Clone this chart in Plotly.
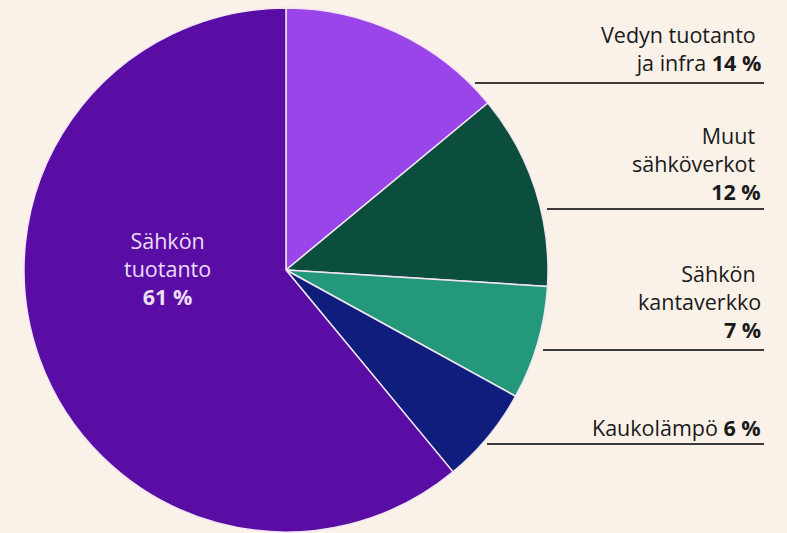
import plotly.graph_objects as go

labels = ["Vedyn tuotanto ja infra", "Muut sähköverkot", "Sähkön kantaverkko", "Kaukolämpö", "Sähkön tuotanto"]
values = [14, 12, 7, 6, 61]
colors = ["#9A45EA", "#0B4E3E", "#24987A", "#0F1E7C", "#5A0DA5"]

W, H = 787, 533
cx, cy, r = 286, 270, 262  # pixel geometry of pie

fig = go.Figure(go.Pie(
    labels=labels, values=values, sort=False, direction="clockwise", rotation=0,
    marker=dict(colors=colors, line=dict(color="#F3E6F2", width=1.5)),
    textinfo="none", hoverinfo="label+percent", showlegend=False,
    domain=dict(x=[(cx - r) / W, (cx + r) / W], y=[(H - cy - r) / H, (H - cy + r) / H]),
))

FAM = "Open Sans, Liberation Sans, sans-serif"
FS = 21.5

def px(x):
    return x / W

def py(y):
    return 1 - y / H

# label text, baseline of its last line (px), leader line y and start x
label_texts = [
    "Vedyn tuotanto&nbsp;<br>ja infra <b>14 %</b>",
    "Muut&nbsp;<br>sähköverkot&nbsp;<br><b>12 %</b>",
    "Sähkön&nbsp;<br>kantaverkko<br><b>7 %</b>",
    "Kaukolämpö <b>6 %</b>",
]
last_base = [72, 201, 339, 437]
line_y = [83, 209, 350, 444]
line_x0 = [475, 547, 543, 487]
x_right = 764

annotations = []
shapes = []
for t, base, ly, lx in zip(label_texts, last_base, line_y, line_x0):
    annotations.append(dict(text=t, x=px(763), y=py(base + 7), xref="paper", yref="paper",
                            xanchor="right", yanchor="bottom", align="right", showarrow=False,
                            font=dict(family=FAM, size=FS, color="#1a1a1a")))
    shapes.append(dict(type="line", xref="paper", yref="paper", x0=px(lx), x1=px(x_right),
                       y0=py(ly), y1=py(ly), line=dict(color="#3a3a3a", width=2)))

annotations.append(dict(text="Sähkön<br>tuotanto<br><b>61 %</b>", x=px(167), y=py(306 + 7),
                        xref="paper", yref="paper", xanchor="center", yanchor="bottom",
                        align="center", showarrow=False,
                        font=dict(family=FAM, size=FS, color="#EBDDF7")))

fig.update_layout(
    width=W, height=H, margin=dict(l=0, r=0, t=0, b=0),
    paper_bgcolor="#FAF1E8", plot_bgcolor="#FAF1E8",
    annotations=annotations, shapes=shapes,
)

fig.write_html("out.html", config={"displayModeBar": False},
               post_script="document.body.style.margin='0';document.body.style.background='#FAF1E8';")
